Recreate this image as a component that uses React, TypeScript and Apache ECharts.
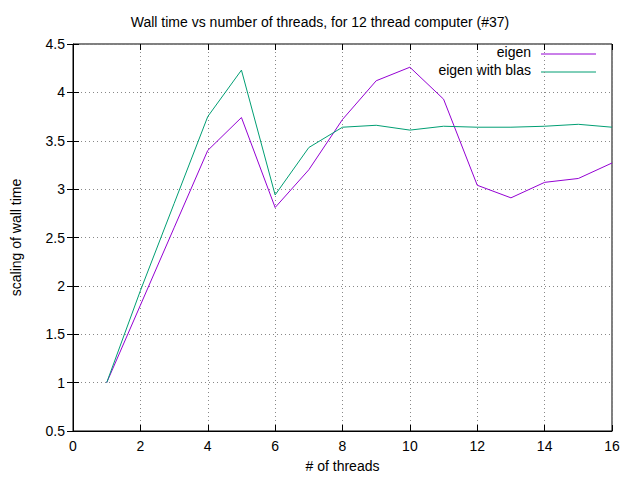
import * as echarts from "echarts";
import { useEffect, useRef } from "react";

const threads = [1, 2, 3, 4, 5, 6, 7, 8, 9, 10, 11, 12, 13, 14, 15, 16];
const eigen = [1.0, 1.8, 2.6, 3.4, 3.74, 2.81, 3.2, 3.72, 4.12, 4.26, 3.93, 3.04, 2.91, 3.07, 3.11, 3.27];
const eigenBlas = [1.0, 1.95, 2.85, 3.75, 4.23, 2.94, 3.43, 3.64, 3.66, 3.61, 3.65, 3.64, 3.64, 3.65, 3.67, 3.64];

const font = "Liberation Sans, Arial, sans-serif";
const PURPLE = "#9400d3";
const GREEN = "#009e73";

const pairs = (ys: number[]) => threads.map((x, i) => [x, ys[i]]);

const baseAxis = {
  axisLine: { show: true, lineStyle: { color: "#000" } },
  axisTick: { show: true, inside: true, length: 6, lineStyle: { color: "#000" } },
  axisLabel: { color: "#000", fontFamily: font, fontSize: 14 },
  splitLine: { show: true, lineStyle: { color: "#888", type: [1, 3] as any } },
};

const App = () => {
  const ref = useRef<HTMLDivElement>(null);
  useEffect(() => {
    const chart = echarts.init(ref.current!, null, { renderer: "svg" });
    chart.setOption({
      animation: false,
      title: {
        text: "Wall time vs number of threads, for 12 thread computer (#37)",
        left: "center",
        top: 10,
        textStyle: { fontFamily: font, fontSize: 14, fontWeight: "normal", color: "#000" },
      },
      grid: { left: 73, right: 28, top: 44, bottom: 49, show: true, borderColor: "#000", borderWidth: 1 },
      xAxis: [
        {
          ...baseAxis,
          type: "value",
          min: 0,
          max: 16,
          interval: 2,
          name: "# of threads",
          nameLocation: "middle",
          nameGap: 28,
          nameTextStyle: { fontFamily: font, fontSize: 14, color: "#000" },
        },
        {
          type: "value", position: "top", min: 0, max: 16, interval: 2,
          axisLine: { show: false }, axisLabel: { show: false }, splitLine: { show: false },
          axisTick: { show: true, inside: true, length: 6, lineStyle: { color: "#000" } },
        },
      ],
      yAxis: [
        {
          ...baseAxis,
          type: "value",
          min: 0.5,
          max: 4.5,
          interval: 0.5,
          name: "scaling of wall time",
          nameLocation: "middle",
          nameGap: 50,
          nameTextStyle: { fontFamily: font, fontSize: 14, color: "#000" },
        },
        {
          type: "value", position: "right", min: 0.5, max: 4.5, interval: 0.5,
          axisLine: { show: false }, axisLabel: { show: false }, splitLine: { show: false },
          axisTick: { show: true, inside: true, length: 6, lineStyle: { color: "#000" } },
        },
      ],
      series: [
        {
          name: "eigen", type: "line", data: pairs(eigen), showSymbol: false,
          lineStyle: { color: PURPLE, width: 1 }, itemStyle: { color: PURPLE },
        },
        {
          name: "eigen with blas", type: "line", data: pairs(eigenBlas), showSymbol: false,
          lineStyle: { color: GREEN, width: 1 }, itemStyle: { color: GREEN },
        },
      ],
      graphic: [
        { type: "text", right: 109, top: 45, style: { text: "eigen", font: `14px ${font}`, fill: "#000" } },
        { type: "line", shape: { x1: 541, y1: 54, x2: 596, y2: 54 }, style: { stroke: PURPLE, lineWidth: 1 } },
        { type: "text", right: 109, top: 63, style: { text: "eigen with blas", font: `14px ${font}`, fill: "#000" } },
        { type: "line", shape: { x1: 541, y1: 72, x2: 596, y2: 72 }, style: { stroke: GREEN, lineWidth: 1 } },
      ],
    });
    return () => chart.dispose();
  }, []);
  return <div ref={ref} style={{ width: 640, height: 480, position: "absolute", left: 0, top: 0 }} />;
};

export default App;
